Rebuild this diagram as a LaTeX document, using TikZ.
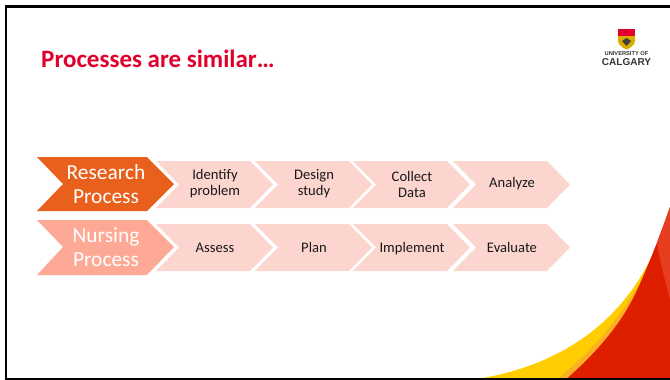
\documentclass[tikz,border=0pt]{standalone}
\usepackage{fontspec}
\setmainfont{Carlito}
\newfontfamily\logofont{Liberation Sans}
\definecolor{ucred}{HTML}{E0002B}
\definecolor{pinkstep}{HTML}{FCD5CF}
\definecolor{orangehead}{HTML}{E8601C}
\definecolor{salmonhead}{HTML}{FDA996}
\definecolor{cornerred}{HTML}{DD1F00}
\definecolor{cornerlight}{HTML}{E63C20}
\definecolor{corneryellow}{HTML}{FFCD00}
\definecolor{cornerorange}{HTML}{FBB024}
\tikzset{
  steplabel/.style={align=center, text=black!90, font=\fontsize{14.6}{16}\selectfont, inner sep=0},
  headlabel/.style={align=center, text=white, font=\fontsize{21.4}{24}\selectfont, inner sep=0},
  logotext/.style={inner sep=0, text=black!80}
}
\begin{document}
\begin{tikzpicture}[x=1pt,y=-1pt]
  \useasboundingbox (0,0) rectangle (670,380);
  % corner
  \fill[corneryellow] (480,378.5) .. controls (560,365) and (640,320) .. (670,207) -- (670,378.5) -- cycle;
  \fill[cornerorange] (558,378.5) .. controls (590,352) and (615,325) .. (635,290) -- (670,290) -- (670,378.5) -- cycle;
  \fill[cornerred] (567,378.5) .. controls (590,358) and (620,328) .. (637,290) .. controls (650,262) and (660,235) .. (670,207) -- (670,378.5) -- cycle;
  \fill[cornerlight] (657,243) .. controls (662,232) and (666,218) .. (670,207) -- (670,300) .. controls (665,280) and (660,262) .. (657,243) -- cycle;
  % frame
  \draw[line width=2.2pt] (670,6.5) -- (5.8,6.5) -- (5.8,378.8) -- (670,378.8);
  % title
  \node[anchor=west, inner sep=0, text=ucred, font=\fontsize{25}{28}\selectfont\bfseries] (title) at (41,59) {Processes are similar\dots};
  % head chevrons
  \fill[orangehead] (37,157) -- (147,157) -- (174,184) -- (147,211) -- (37,211) -- (63,184) -- cycle;
  \fill[salmonhead] (37,220) -- (147,220) -- (174,247) -- (147,275) -- (37,275) -- (63,247) -- cycle;
  \node[headlabel] (research) at (106,184) {Research\\Process};
  \node[headlabel] (nursing) at (106,247) {Nursing\\Process};
  % step chevrons
  \foreach \l/\nm/\txt in {156/identify/{Identify\\problem},255/design/{Design\\study},353/collect/{Collect\\Data},453/analyze/{Analyze}}{
    \fill[pinkstep] (\l,161) -- ++(94,0) -- ++(23,23.5) -- ++(-23,23.5) -- ++(-94,0) -- ++(23,-23.5) -- cycle;
    \node[steplabel] (\nm) at (\l+59,184) {\txt};
  }
  \foreach \l/\nm/\txt in {156/assess/{Assess},255/plan/{Plan},353/implement/{Implement},453/evaluate/{Evaluate}}{
    \fill[pinkstep] (\l,224) -- ++(94,0) -- ++(23,23.5) -- ++(-23,23.5) -- ++(-94,0) -- ++(23,-23.5) -- cycle;
    \node[steplabel, anchor=base] (\nm) at (\l+59,252.3) {\txt};
  }
  % logo
  \fill[ucred] (618,28.5) -- (635,28.5) -- (635,36) -- (618,36) -- cycle;
  \fill[corneryellow!85!black] (618,36) -- (635,36) -- (635,41) .. controls (635,45) and (630,48) .. (626.5,49.5) .. controls (623,48) and (618,45) .. (618,41) -- cycle;
  \fill[black!75] (626.5,38) -- (631,41) -- (626.5,46) -- (622,41) -- cycle;
  \node[logotext, font=\logofont\bfseries\fontsize{5.7}{6}\selectfont] (univ) at (626.5,54) {UNIVERSITY OF};
  \node[logotext, font=\logofont\bfseries\fontsize{10}{10}\selectfont] (calgary) at (626.5,62) {CALGARY};
\end{tikzpicture}
\end{document}
